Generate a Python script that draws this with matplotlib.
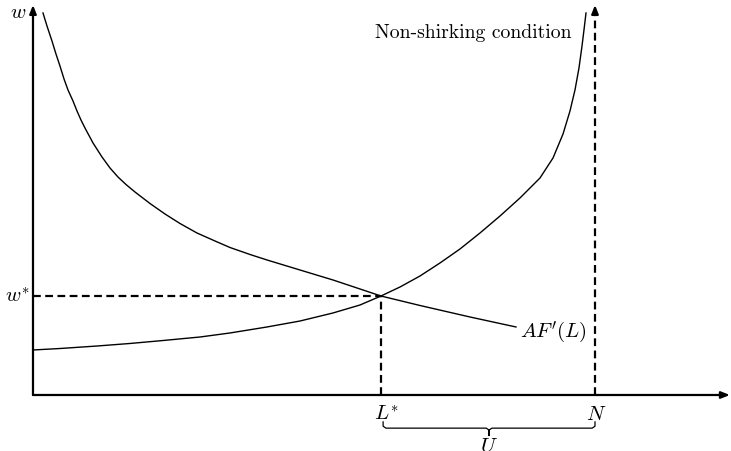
import matplotlib.pyplot as plt
import numpy as np

plt.rcParams['mathtext.fontset'] = 'cm'

# employment L (N = 100) and wage w
L_af = [1.78, 2.49, 3.38, 4.09, 4.80, 5.52, 6.23, 7.12, 7.83, 8.54, 9.25, 10.68, 12.28, 13.70,
        15.12, 16.55, 18.15, 20.82, 23.49, 26.16, 29.18, 32.38, 35.05, 38.61, 41.64, 47.51,
        53.38, 57.65, 61.92, 68.86, 77.76, 85.94]
w_af = [97.95, 94.62, 90.77, 87.44, 84.36, 81.03, 78.21, 75.38, 72.82, 70.51, 68.46, 64.62,
        61.03, 58.21, 55.90, 53.97, 52.05, 49.10, 46.41, 43.97, 41.54, 39.49, 37.82, 36.03,
        34.62, 32.05, 29.49, 27.44, 25.38, 22.95, 20.00, 17.44]

L_nsc = [0, 4.80, 11.39, 17.26, 23.13, 29.72, 35.05, 41.64, 47.51, 53.38, 58.19, 61.92, 65.30,
         68.86, 72.42, 75.98, 79.54, 83.10, 86.65, 90.21, 92.53, 94.31, 95.55, 96.44, 97.15,
         97.69, 98.04, 98.40]
w_nsc = [11.54, 11.92, 12.56, 13.21, 13.97, 14.87, 15.90, 17.44, 18.97, 21.03, 23.08, 25.38,
         27.69, 30.51, 33.85, 37.44, 41.54, 45.90, 50.51, 55.64, 60.77, 66.92, 72.82, 78.21,
         83.85, 89.49, 93.59, 97.95]

L_star, w_star = 62, 25.4
N = 100
x_max, y_max = 124, 100

fig = plt.figure(figsize=(7.31, 4.51), dpi=100)
ax = fig.add_axes([0, 0, 1, 1])
ax.set_xlim(-5.87, 124.2)
ax.set_ylim(-14.36, 101.28)
ax.axis('off')

# axes with arrows
arrow = dict(arrowstyle='-|>,head_length=0.5,head_width=0.2', color='black', lw=1.6,
             shrinkA=0, shrinkB=0)
ax.annotate('', xy=(0, y_max), xytext=(0, 0), arrowprops=arrow)
ax.annotate('', xy=(x_max, 0), xytext=(0, 0), arrowprops=arrow)

# curves
ax.plot(L_af, w_af, color='black', lw=1.0, solid_joinstyle='round')
ax.plot(L_nsc, w_nsc, color='black', lw=1.0, solid_joinstyle='round')

# dashed guides
dash = dict(color='black', lw=1.6, ls=(0, (3.5, 2)))
ax.plot([0, L_star], [w_star, w_star], **dash)
ax.plot([L_star, L_star], [0, w_star], **dash)
ax.plot([N, N], [0, y_max - 2], **dash)
ax.annotate('', xy=(N, y_max), xytext=(N, y_max - 2), arrowprops=arrow)

# labels
ax.text(-2.7, 98.2, r'$w$', fontsize=15, ha='center', va='center')
ax.text(-0.6, w_star, r'$w^{*}$', fontsize=15, ha='right', va='center')
ax.text(L_star + 0.8, -2.2, r'$L^{*}$', fontsize=15, ha='center', va='top')
ax.text(N + 0.2, -2.2, r'$N$', fontsize=15, ha='center', va='top')
ax.text(95.9, 92.8, 'Non-shirking condition', fontsize=14.2, family='cmr10',
        ha='right', va='center')
ax.text(86.6, 16.2, r"$AF'(L)$", fontsize=15, ha='left', va='center')

# brace under L* .. N
mid = (L_star + 0.3 + N) / 2
bx = [L_star + 0.3, L_star + 0.3, L_star + 0.8, mid - 0.5, mid, mid, mid, mid + 0.5, N - 0.5, N, N]
by = [-6.9, -8.0, -8.5, -8.5, -9.0, -10.4, -9.0, -8.5, -8.5, -8.0, -6.9]
ax.plot(bx, by, color='black', lw=0.9)
ax.text(mid, -10.4, r'$U$', fontsize=15, ha='center', va='top')

fig.savefig('out.png', dpi=100)
